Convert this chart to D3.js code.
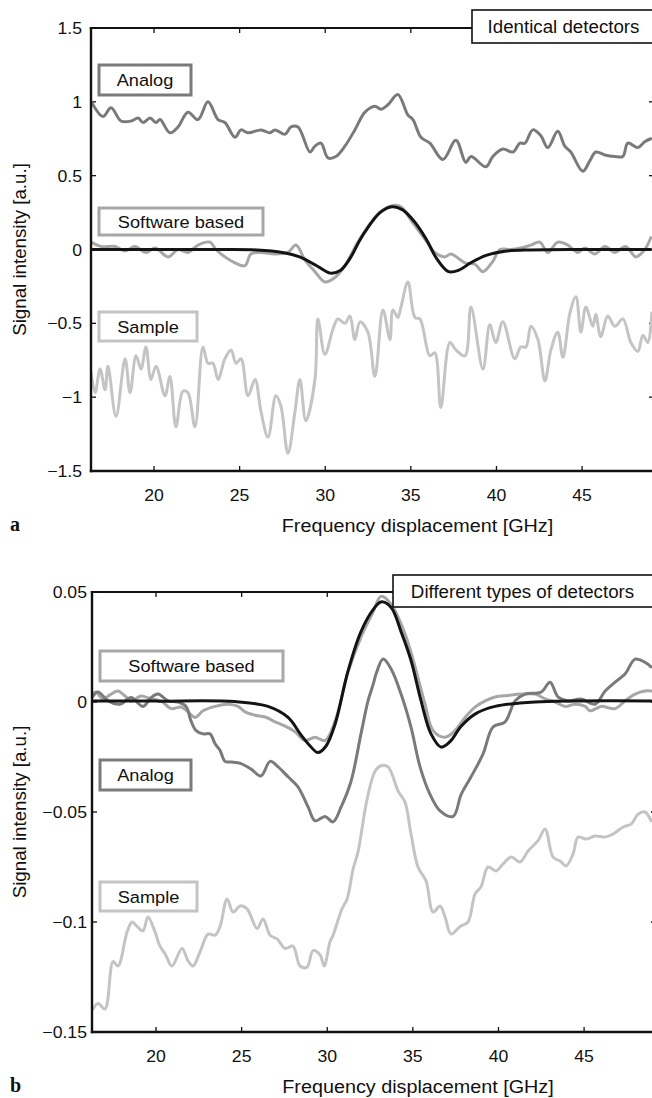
<!DOCTYPE html>
<html><head><meta charset="utf-8">
<script src="https://cdn.jsdelivr.net/npm/d3@7/dist/d3.min.js"></script>
<style>html,body{margin:0;padding:0;background:#fff;}svg{display:block;}</style>
</head><body>
<script>
// ---------- DATA ----------
const xTicks = [20, 25, 30, 35, 40, 45];
const xLabels = ["20", "25", "30", "35", "40", "45"];
const aYTicks = [1.5, 1, 0.5, 0, -0.5, -1, -1.5];
const aYLabels = ["1.5", "1", "0.5", "0", "\u22120.5", "\u22121", "\u22121.5"];
const bYTicks = [0.05, 0, -0.05, -0.1, -0.15];
const bYLabels = ["0.05", "0", "\u22120.05", "\u22120.1", "\u22120.15"];
const seriesNames = ["Analog", "Software based", "Sample"];
const aTitle = "Identical detectors";
const bTitle = "Different types of detectors";
const xTitle = "Frequency displacement [GHz]";
const yTitle = "Signal intensity [a.u.]";

const aAnalog = [[16.34,1.00],[17.02,0.90],[17.49,0.96],[18.07,0.87],[18.66,0.87],[19.07,0.89],[19.36,0.86],[19.77,0.89],[20.12,0.86],[20.35,0.88],[20.93,0.79],[21.40,0.83],[21.98,0.93],[22.57,0.88],[23.15,1.00],[23.74,0.88],[24.14,0.86],[24.73,0.76],[25.08,0.81],[25.49,0.79],[26.25,0.81],[26.77,0.79],[27.06,0.81],[27.65,0.78],[28.00,0.83],[28.41,0.83],[29.11,0.66],[29.40,0.70],[29.75,0.72],[30.16,0.62],[30.62,0.63],[31.15,0.70],[31.73,0.81],[32.32,0.93],[32.90,0.97],[33.25,0.95],[33.66,0.98],[34.24,1.05],[34.83,0.91],[35.12,0.88],[35.59,0.76],[36.11,0.72],[36.87,0.61],[37.63,0.74],[38.21,0.59],[38.51,0.63],[39.38,0.56],[39.79,0.63],[40.37,0.68],[40.96,0.66],[41.37,0.72],[41.66,0.72],[42.12,0.81],[42.59,0.77],[43.00,0.69],[43.58,0.80],[43.99,0.70],[44.34,0.66],[45.04,0.53],[45.45,0.60],[45.80,0.66],[46.33,0.64],[46.91,0.63],[47.38,0.63],[47.67,0.72],[48.26,0.69],[48.66,0.73],[49.01,0.75]];
const aSoftware = [[16.32,0.05],[16.91,0.02],[17.72,0.02],[18.31,-0.01],[18.89,0.02],[19.53,-0.02],[20.06,0.01],[20.82,-0.05],[21.40,0.00],[21.98,-0.02],[22.57,0.03],[23.27,0.05],[23.62,0.00],[24.14,-0.05],[24.73,-0.09],[25.31,-0.11],[25.66,-0.03],[26.25,-0.02],[27.06,-0.03],[27.82,-0.02],[28.29,0.03],[28.81,-0.07],[29.40,-0.15],[29.98,-0.22],[30.57,-0.19],[31.15,-0.11],[31.91,0.05],[32.78,0.20],[33.25,0.26],[34.07,0.30],[34.42,0.29],[35.12,0.18],[35.82,0.07],[36.40,-0.02],[36.99,-0.05],[37.34,-0.03],[38.16,-0.09],[38.74,-0.10],[39.21,-0.15],[39.79,-0.08],[40.20,0.00],[40.84,0.00],[41.42,0.01],[42.01,0.03],[42.53,0.05],[43.00,-0.02],[43.58,0.05],[44.17,0.03],[44.75,-0.02],[45.16,0.01],[45.74,-0.03],[46.33,0.02],[46.91,-0.02],[47.55,0.02],[48.14,-0.05],[48.66,0.00],[49.01,0.08]];
const aFit = [[16.3,0],[20,0],[24,0],[26,-0.003],[27.5,-0.02],[28.5,-0.05],[29.5,-0.11],[30.3,-0.16],[30.9,-0.14],[31.5,-0.05],[32.0,0.06],[32.5,0.15],[33.2,0.25],[33.9,0.29],[34.5,0.27],[35.2,0.19],[35.9,0.07],[36.5,-0.06],[37.2,-0.15],[37.8,-0.14],[38.5,-0.09],[39.4,-0.04],[40.5,-0.012],[42,-0.003],[45,0],[49,0]];
const aSample = [[16.32,-0.83],[16.56,-0.97],[16.85,-0.81],[17.14,-0.95],[17.31,-0.79],[17.78,-1.13],[18.31,-0.74],[18.60,-0.97],[18.95,-0.72],[19.24,-0.81],[19.53,-0.66],[19.82,-0.88],[20.12,-0.79],[20.64,-0.99],[20.93,-0.86],[21.28,-1.20],[21.69,-0.96],[21.98,-0.97],[22.39,-1.20],[22.86,-0.66],[23.15,-0.77],[23.44,-0.77],[23.74,-0.88],[24.14,-0.74],[24.50,-0.68],[24.79,-0.77],[25.08,-0.74],[25.49,-0.99],[25.90,-0.88],[26.25,-1.10],[26.66,-1.27],[27.12,-0.99],[27.41,-1.06],[27.82,-1.38],[28.23,-1.10],[28.52,-0.88],[28.87,-1.16],[29.40,-0.88],[29.57,-0.47],[29.98,-0.71],[30.45,-0.54],[30.74,-0.47],[31.15,-0.50],[31.44,-0.45],[31.73,-0.61],[32.03,-0.49],[32.49,-0.56],[32.90,-0.86],[33.37,-0.41],[33.78,-0.61],[33.95,-0.41],[34.24,-0.46],[34.42,-0.39],[34.83,-0.22],[35.24,-0.46],[35.53,-0.47],[36.11,-0.72],[36.40,-0.70],[36.75,-1.07],[37.28,-0.63],[37.63,-0.68],[38.16,-0.72],[38.51,-0.39],[39.21,-0.81],[39.61,-0.51],[39.96,-0.63],[40.37,-0.49],[41.07,-0.74],[41.42,-0.66],[41.72,-0.66],[42.01,-0.52],[42.42,-0.61],[42.83,-0.89],[43.18,-0.68],[43.58,-0.56],[43.88,-0.73],[44.29,-0.43],[44.64,-0.32],[44.93,-0.56],[45.22,-0.39],[45.63,-0.52],[45.80,-0.44],[46.09,-0.59],[46.50,-0.45],[46.91,-0.52],[47.38,-0.47],[47.85,-0.63],[48.26,-0.69],[48.55,-0.58],[48.84,-0.63],[49.07,-0.43]];

const bFit = [[16.26,0.0005],[20,0.0004],[24.61,0.0002],[26.54,-0.002],[27.71,-0.007],[28.47,-0.015],[29.00,-0.020],[29.46,-0.023],[29.93,-0.020],[30.46,-0.010],[31.21,0.014],[31.97,0.032],[32.68,0.042],[33.14,0.0455],[33.73,0.043],[34.31,0.032],[34.89,0.019],[35.48,0.0005],[36.06,-0.0145],[36.65,-0.0205],[37.17,-0.018],[37.82,-0.011],[38.63,-0.0055],[39.80,-0.002],[42.14,0],[48.91,0.0005]];
const bSoftware = [[16.26,0.0036],[16.50,0.0045],[16.90,0.0014],[17.37,0.0036],[17.78,0.005],[18.19,0.0027],[18.54,0.0005],[19.12,0.0027],[19.71,0.0014],[20.29,0.0005],[20.88,-0.003],[21.46,-0.0023],[21.87,-0.0045],[22.28,-0.007],[22.75,-0.004],[23.45,-0.002],[24.21,-0.001],[24.79,-0.002],[25.20,-0.0045],[25.78,-0.006],[26.37,-0.0068],[26.95,-0.009],[27.54,-0.011],[28.12,-0.0135],[28.70,-0.0175],[29.29,-0.016],[29.87,-0.0175],[30.46,-0.0087],[31.21,0.0135],[31.97,0.0295],[32.68,0.041],[33.14,0.048],[33.73,0.0445],[34.54,0.031],[35.13,0.016],[35.71,-0.001],[36.18,-0.013],[36.88,-0.016],[37.46,-0.013],[38.05,-0.007],[38.63,-0.0023],[39.22,0.0005],[39.80,0.0023],[40.56,0.003],[41.32,0.0036],[42.14,0.0036],[42.72,0.0014],[43.31,0],[43.89,-0.002],[44.47,-0.001],[45.06,-0.002],[45.35,-0.004],[45.99,-0.002],[46.81,-0.003],[47.39,0.0005],[47.98,0.0036],[48.56,0.005],[48.91,0.005]];
const bAnalog = [[16.26,0.002],[16.61,0.0045],[17.20,0.0005],[17.90,-0.001],[18.54,0.002],[19.24,-0.002],[19.71,0.002],[20.12,0.0036],[20.70,0.0005],[21.29,0],[21.75,-0.002],[22.04,-0.0086],[22.34,-0.013],[22.75,-0.0145],[23.15,-0.0145],[23.45,-0.019],[23.74,-0.022],[24.03,-0.027],[24.38,-0.0273],[24.96,-0.028],[25.55,-0.0305],[26.13,-0.0336],[26.66,-0.027],[27.13,-0.0295],[27.71,-0.034],[28.29,-0.0386],[28.88,-0.0477],[29.29,-0.054],[29.87,-0.052],[30.34,-0.0545],[30.81,-0.0477],[31.39,-0.036],[31.97,-0.0145],[32.38,0.0005],[32.68,0.008],[32.85,0.0127],[33.26,0.0195],[33.73,0.015],[34.31,0.0036],[34.89,-0.0114],[35.42,-0.0295],[36.00,-0.042],[36.59,-0.0495],[37.35,-0.052],[37.82,-0.042],[38.40,-0.034],[39.10,-0.0236],[39.68,-0.0114],[40.39,-0.009],[40.97,0.0005],[41.55,0.0036],[42.49,0.0045],[43.01,0.009],[43.48,0.0023],[44.07,0.0005],[44.82,0.0014],[45.64,-0.001],[46.23,0.005],[46.81,0.009],[47.39,0.0127],[47.98,0.0195],[48.56,0.018],[48.91,0.016]];
const bSample = [[16.32,-0.1395],[16.61,-0.137],[17.02,-0.1395],[17.49,-0.118],[17.78,-0.12],[18.31,-0.1045],[18.60,-0.100],[18.89,-0.102],[19.24,-0.104],[19.53,-0.0977],[19.94,-0.1045],[20.23,-0.111],[20.53,-0.1145],[20.93,-0.12],[21.52,-0.112],[21.87,-0.1177],[22.16,-0.12],[22.57,-0.1136],[23.04,-0.1055],[23.45,-0.106],[23.74,-0.102],[24.15,-0.0895],[24.50,-0.0955],[24.91,-0.0927],[25.32,-0.094],[25.90,-0.103],[26.25,-0.0986],[26.66,-0.106],[27.07,-0.1077],[27.54,-0.112],[28.00,-0.111],[28.41,-0.12],[28.82,-0.1205],[29.17,-0.113],[29.58,-0.115],[29.82,-0.12],[30.16,-0.109],[30.34,-0.106],[30.86,-0.094],[31.16,-0.0895],[31.51,-0.0759],[31.80,-0.068],[32.33,-0.044],[32.80,-0.0314],[33.14,-0.029],[33.55,-0.0295],[34.14,-0.0405],[34.54,-0.0455],[34.89,-0.06],[35.30,-0.075],[35.77,-0.0814],[36.18,-0.0955],[36.59,-0.0927],[36.88,-0.0977],[37.23,-0.1055],[37.76,-0.102],[38.22,-0.100],[38.63,-0.0873],[38.98,-0.084],[39.39,-0.075],[39.86,-0.0768],[40.27,-0.0736],[40.74,-0.0705],[41.26,-0.0727],[41.73,-0.0677],[42.31,-0.063],[42.72,-0.0577],[43.19,-0.0705],[43.60,-0.0723],[43.95,-0.0745],[44.36,-0.069],[44.65,-0.0614],[45.12,-0.0623],[45.64,-0.0609],[46.23,-0.0614],[46.70,-0.06],[47.28,-0.0568],[47.75,-0.0555],[48.15,-0.051],[48.56,-0.050],[48.91,-0.054]];

// ---------- STYLE ----------
const colAnalog = "#7a7a7a", colSoft = "#a7a7a7", colSample = "#c4c4c4", colFit = "#141414";
const FONT = "'Liberation Sans', Arial, Helvetica, sans-serif";
const SX = 1.07;

const svg = d3.select("body").append("svg").attr("width", 652).attr("height", 1098);

function txt(g, x, y, s, o = {}) {
  const t = g.append("text")
    .attr("transform", `translate(${x},${y})` + (o.rot ? ` rotate(${o.rot})` : "") + ` scale(${o.sx || SX},1)`)
    .attr("font-family", o.family || FONT)
    .attr("font-size", o.size || 17)
    .attr("font-weight", o.weight || "normal")
    .attr("text-anchor", o.anchor || "start")
    .attr("fill", "#111")
    .text(s);
  return t;
}

function panel(cfg) {
  const g = svg.append("g");
  const x = d3.scaleLinear().domain(cfg.xDomain).range(cfg.xRange);
  const y = d3.scaleLinear().domain(cfg.yDomain).range(cfg.yRange);
  const [x0, x1] = cfg.xRange, [yb, yt] = cfg.yRange;
  const id = "clip" + cfg.name;
  g.append("clipPath").attr("id", id).append("rect")
    .attr("x", x0).attr("y", yt).attr("width", x1 - x0).attr("height", yb - yt);

  // ticks
  const tl = 5;
  xTicks.forEach(v => {
    g.append("line").attr("x1", x(v)).attr("x2", x(v)).attr("y1", yb).attr("y2", yb - tl).attr("stroke", "#111").attr("stroke-width", 1.3);
    g.append("line").attr("x1", x(v)).attr("x2", x(v)).attr("y1", yt).attr("y2", yt + tl).attr("stroke", "#111").attr("stroke-width", 1.3);
  });
  cfg.yTicks.forEach(v => {
    g.append("line").attr("x1", x0).attr("x2", x0 + tl).attr("y1", y(v)).attr("y2", y(v)).attr("stroke", "#111").attr("stroke-width", 1.3);
    g.append("line").attr("x1", x1).attr("x2", x1 - tl).attr("y1", y(v)).attr("y2", y(v)).attr("stroke", "#111").attr("stroke-width", 1.3);
  });

  // series
  const line = d3.line().x(d => x(d[0])).y(d => y(d[1])).curve(d3.curveCatmullRom.alpha(0.5));
  const lg = g.append("g").attr("clip-path", `url(#${id})`);
  cfg.series.forEach(s => {
    lg.append("path").datum(s.data).attr("d", line).attr("fill", "none")
      .attr("stroke", s.color).attr("stroke-width", s.w || 3).attr("stroke-linejoin", "round").attr("stroke-linecap", "round");
  });

  // frame
  g.append("line").attr("x1", x0).attr("x2", x0).attr("y1", yt - 1).attr("y2", yb + 1.2).attr("stroke", "#111").attr("stroke-width", 2.4);
  g.append("line").attr("x1", x0 - 1.2).attr("x2", x1).attr("y1", yb).attr("y2", yb).attr("stroke", "#111").attr("stroke-width", 2.4);
  g.append("line").attr("x1", x0 - 1.2).attr("x2", x1).attr("y1", yt).attr("y2", yt).attr("stroke", "#111").attr("stroke-width", 1.8);
  g.append("line").attr("x1", x1).attr("x2", x1).attr("y1", yt).attr("y2", yb).attr("stroke", "#111").attr("stroke-width", 1.8);

  // tick labels
  xTicks.forEach((v, i) => txt(g, x(v), yb + 30, xLabels[i], { anchor: "middle", size: 16.5 }));
  cfg.yTicks.forEach((v, i) => txt(g, cfg.yLabelX, y(v) + 6, cfg.yLabels[i], { anchor: "end", size: 16.5 }));

  // axis titles
  txt(g, (x0 + 652) / 2 + 46, yb + 61, xTitle, { anchor: "middle", size: 18.5 });
  txt(g, 26, (yt + yb) / 2, yTitle, { anchor: "middle", size: 17.5, rot: -90 });
  txt(g, 10, yb + 60, cfg.letter, { family: "'Liberation Serif', 'Times New Roman', serif", weight: "bold", size: 20, sx: 1 });

  // legend boxes
  cfg.boxes.forEach(b => {
    g.append("rect").attr("x", b.x).attr("y", b.y).attr("width", b.w).attr("height", b.h)
      .attr("fill", "#fff").attr("stroke", b.color).attr("stroke-width", 3);
    txt(g, b.x + b.w / 2, b.y + b.h / 2 + 6, b.label, { anchor: "middle", size: 17 });
  });
  // title box
  const tb = cfg.titleBox;
  g.append("rect").attr("x", tb.x).attr("y", tb.y).attr("width", tb.w).attr("height", tb.h)
    .attr("fill", "#fff").attr("stroke", "#111").attr("stroke-width", 1.6);
  txt(g, tb.tx, tb.y + tb.h / 2 + 6.5, tb.label, { anchor: "middle", size: 17.5 });
}

panel({
  name: "a", letter: "a",
  xDomain: [16.32, 49.2], xRange: [91, 654],
  yDomain: [-1.5, 1.5], yRange: [471, 28],
  yTicks: aYTicks, yLabels: aYLabels, yLabelX: 82,
  series: [
    { data: aSample, color: colSample },
    { data: aAnalog, color: colAnalog },
    { data: aSoftware, color: colSoft },
    { data: aFit, color: colFit, w: 3 }
  ],
  boxes: [
    { x: 99, y: 65, w: 92, h: 30, color: colAnalog, label: seriesNames[0] },
    { x: 99, y: 208, w: 164, h: 27, color: colSoft, label: seriesNames[1] },
    { x: 99, y: 312, w: 98, h: 29, color: colSample, label: seriesNames[2] }
  ],
  titleBox: { x: 472, y: 10, w: 190, h: 33, tx: 563.5, label: aTitle }
});

panel({
  name: "b", letter: "b",
  xDomain: [16.26, 49.2], xRange: [92, 656],
  yDomain: [-0.15, 0.05], yRange: [1032, 592],
  yTicks: bYTicks, yLabels: bYLabels, yLabelX: 87,
  series: [
    { data: bSample, color: colSample },
    { data: bSoftware, color: colSoft },
    { data: bAnalog, color: colAnalog },
    { data: bFit, color: colFit, w: 3 }
  ],
  boxes: [
    { x: 100, y: 651, w: 183, h: 30, color: colSoft, label: seriesNames[1] },
    { x: 100, y: 760, w: 91, h: 30, color: colAnalog, label: seriesNames[0] },
    { x: 100, y: 882, w: 97, h: 29, color: colSample, label: seriesNames[2] }
  ],
  titleBox: { x: 393, y: 575, w: 270, h: 32, tx: 522.5, label: bTitle }
});
</script>
</body></html>
